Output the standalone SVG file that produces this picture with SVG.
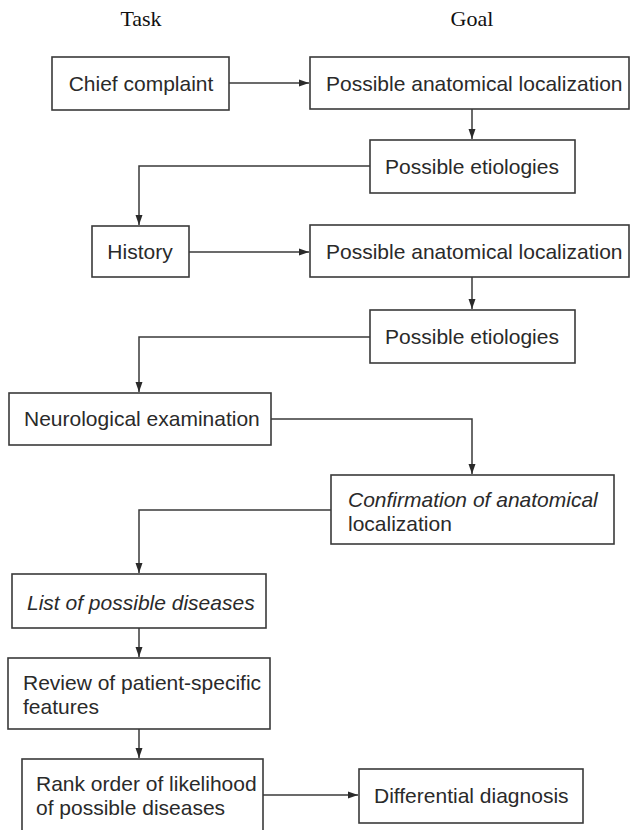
<svg xmlns="http://www.w3.org/2000/svg" width="632" height="830" viewBox="0 0 632 830">
  <style>
    .box { fill: #ffffff; stroke: #3a3a3a; stroke-width: 1.6; }
    .lbl { font-family: "Liberation Sans", Arial, sans-serif; font-size: 21px; fill: #2a2a2a; }
    .it { font-style: italic; }
    .mid { text-anchor: middle; }
    .head { font-family: "Liberation Serif", "Times New Roman", serif; font-size: 22px; fill: #111; text-anchor: middle; }
    .conn { fill: none; stroke: #3a3a3a; stroke-width: 1.5; }
  </style>
  <defs>
    <marker id="arrow" markerUnits="userSpaceOnUse" markerWidth="11" markerHeight="8" refX="10" refY="4" orient="auto">
      <path d="M0,0.5 L10,4 L0,7.5 Z" fill="#2a2a2a"/>
    </marker>
  </defs>
  <rect width="632" height="830" fill="#ffffff"/>

  <!-- column headings -->
  <g id="headings">
    <text class="head" x="141" y="26">Task</text>
    <text class="head" x="472" y="26">Goal</text>
  </g>

  <!-- connectors -->
  <g id="connectors" class="conn" marker-end="url(#arrow)">
    <path d="M229,83 H309"/>
    <path d="M472,109 V139"/>
    <path d="M370,166 H139 V225"/>
    <path d="M189,252 H309"/>
    <path d="M472,277 V309"/>
    <path d="M370,337 H139 V392"/>
    <path d="M271,419 H472 V474"/>
    <path d="M331,510 H139 V573"/>
    <path d="M139,628 V657"/>
    <path d="M139,729 V758"/>
    <path d="M263,795 H358"/>
  </g>

  <g id="chief-complaint">
    <rect class="box" x="52" y="57" width="177" height="53"/>
    <text class="lbl mid" x="141" y="91">Chief complaint</text>
  </g>

  <g id="localization-1">
    <rect class="box" x="310" y="57" width="319" height="52"/>
    <text class="lbl" x="326" y="91">Possible anatomical localization</text>
  </g>

  <g id="etiologies-1">
    <rect class="box" x="370" y="140" width="205" height="53"/>
    <text class="lbl mid" x="472" y="174">Possible etiologies</text>
  </g>

  <g id="history">
    <rect class="box" x="92" y="226" width="97" height="51"/>
    <text class="lbl mid" x="140" y="259">History</text>
  </g>

  <g id="localization-2">
    <rect class="box" x="310" y="225" width="319" height="52"/>
    <text class="lbl" x="326" y="259">Possible anatomical localization</text>
  </g>

  <g id="etiologies-2">
    <rect class="box" x="370" y="310" width="205" height="53"/>
    <text class="lbl mid" x="472" y="344">Possible etiologies</text>
  </g>

  <g id="neuro-exam">
    <rect class="box" x="9" y="393" width="262" height="52"/>
    <text class="lbl" x="24" y="426">Neurological examination</text>
  </g>

  <g id="confirmation">
    <rect class="box" x="331" y="475" width="283" height="69"/>
    <text class="lbl it" x="348" y="507">Confirmation of anatomical</text>
    <text class="lbl" x="348" y="531">localization</text>
  </g>

  <g id="disease-list">
    <rect class="box" x="12" y="574" width="254" height="54"/>
    <text class="lbl it" x="27" y="610">List of possible diseases</text>
  </g>

  <g id="patient-review">
    <rect class="box" x="8" y="658" width="262" height="71"/>
    <text class="lbl" x="23" y="690">Review of patient-specific</text>
    <text class="lbl" x="23" y="714">features</text>
  </g>

  <g id="rank-order">
    <rect class="box" x="22" y="759" width="241" height="80"/>
    <text class="lbl" x="36" y="791">Rank order of likelihood</text>
    <text class="lbl" x="36" y="815">of possible diseases</text>
  </g>

  <g id="differential">
    <rect class="box" x="359" y="769" width="224" height="54"/>
    <text class="lbl" x="374" y="803">Differential diagnosis</text>
  </g>
</svg>
